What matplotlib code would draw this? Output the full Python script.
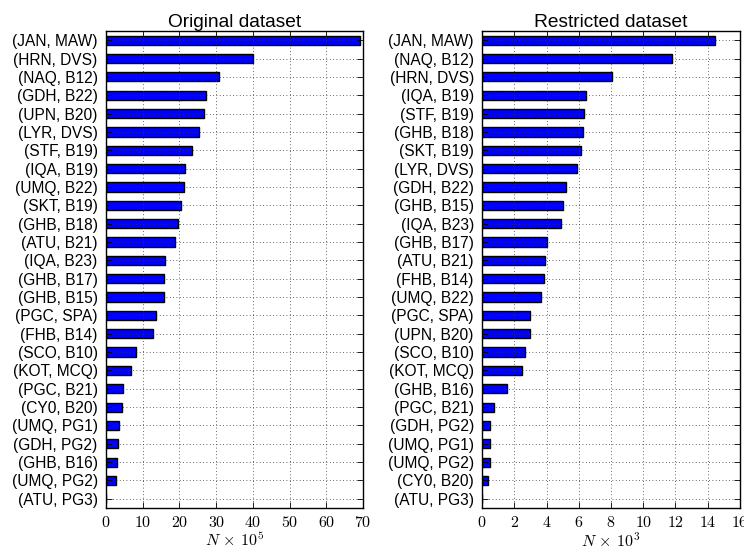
import matplotlib
matplotlib.use("Agg")
import matplotlib.pyplot as plt
from matplotlib.ticker import FuncFormatter

plt.rcParams['font.family'] = ['Liberation Sans', 'DejaVu Sans']
plt.rcParams['mathtext.fontset'] = 'cm'

# original dataset, N x 10^5
orig_labels = ['(JAN, MAW)', '(HRN, DVS)', '(NAQ, B12)', '(GDH, B22)', '(UPN, B20)',
               '(LYR, DVS)', '(STF, B19)', '(IQA, B19)', '(UMQ, B22)', '(SKT, B19)',
               '(GHB, B18)', '(ATU, B21)', '(IQA, B23)', '(GHB, B17)', '(GHB, B15)',
               '(PGC, SPA)', '(FHB, B14)', '(SCO, B10)', '(KOT, MCQ)', '(PGC, B21)',
               '(CY0, B20)', '(UMQ, PG1)', '(GDH, PG2)', '(GHB, B16)', '(UMQ, PG2)',
               '(ATU, PG3)']
orig_values = [69.2, 40.1, 30.9, 27.3, 26.8, 25.2, 23.3, 21.4, 21.2, 20.3,
               19.5, 18.9, 16.0, 15.8, 15.8, 13.6, 12.9, 8.3, 6.8, 4.7,
               4.4, 3.6, 3.2, 2.9, 2.6, 0.0]

# restricted dataset, N x 10^3
restr_labels = ['(JAN, MAW)', '(NAQ, B12)', '(HRN, DVS)', '(IQA, B19)', '(STF, B19)',
                '(GHB, B18)', '(SKT, B19)', '(LYR, DVS)', '(GDH, B22)', '(GHB, B15)',
                '(IQA, B23)', '(GHB, B17)', '(ATU, B21)', '(FHB, B14)', '(UMQ, B22)',
                '(PGC, SPA)', '(UPN, B20)', '(SCO, B10)', '(KOT, MCQ)', '(GHB, B16)',
                '(PGC, B21)', '(GDH, PG2)', '(UMQ, PG1)', '(UMQ, PG2)', '(CY0, B20)',
                '(ATU, PG3)']
restr_values = [14.46, 11.77, 8.07, 6.45, 6.33, 6.27, 6.14, 5.89, 5.19, 5.02,
                4.87, 4.03, 3.90, 3.86, 3.63, 2.97, 2.97, 2.68, 2.49, 1.54,
                0.75, 0.50, 0.46, 0.46, 0.39, 0.0]


def draw_panel(ax, labels, values, title, xmax, xticks, xlabel):
    n = len(labels)
    pos = list(range(n))[::-1]
    ax.barh(pos, values, height=0.5, color='#0000ff', edgecolor='black',
            linewidth=1.0, zorder=1)
    ax.set_ylim(-0.5, n - 0.5)
    ax.set_yticks(pos)
    ax.set_yticklabels(labels, fontsize=11.2)
    ax.set_xlim(0, xmax)
    ax.set_xticks(xticks)
    ax.xaxis.set_major_formatter(FuncFormatter(lambda v, p: r'$%d$' % v))
    ax.tick_params(axis='x', labelsize=11.5, pad=5)
    ax.tick_params(axis='y', pad=6)
    ax.tick_params(direction='in', top=True, right=True, length=4, width=0.6)
    # dotted grid drawn over the bars
    ax.set_axisbelow(False)
    ax.grid(True, linestyle=(0, (1, 3)), color='#333333', linewidth=0.6)
    for s in ax.spines.values():
        s.set_linewidth(1.0)
        s.set_zorder(3)
    ax.set_title(title, fontsize=13.8, pad=3)
    ax.set_xlabel(xlabel, fontsize=11.5, labelpad=1)


fig = plt.figure(figsize=(7.44, 5.52), dpi=100)
ax1 = fig.add_axes([0.1425, 0.0797, 0.3455, 0.8641])
ax2 = fig.add_axes([0.648, 0.0797, 0.3465, 0.8641])

draw_panel(ax1, orig_labels, orig_values, 'Original dataset', 70,
           range(0, 71, 10), r'$N\,\times\,10^5$')
draw_panel(ax2, restr_labels, restr_values, 'Restricted dataset', 16,
           range(0, 17, 2), r'$N\,\times\,10^3$')

fig.savefig('out.png', dpi=100)
